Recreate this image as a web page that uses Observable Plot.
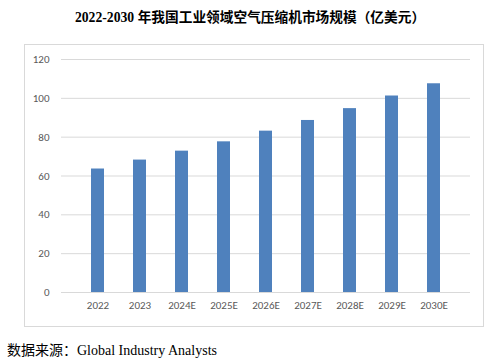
<!DOCTYPE html>
<html><head><meta charset="utf-8">
<script src="https://cdn.jsdelivr.net/npm/d3@7"></script>
<script src="https://cdn.jsdelivr.net/npm/@observablehq/plot@0.6"></script>
<style>
body{margin:0;background:#fff;width:495px;height:362px;position:relative;overflow:hidden}
#title{position:absolute;top:6px;left:0;width:500px;text-align:center;font:bold 13.7px "Liberation Serif","Noto Sans CJK SC",serif;color:#000}
#chart{position:absolute;left:24px;top:44px;width:458px;height:281px;border:1px solid #d9d9d9}
#caption{position:absolute;left:7px;top:339px;font:14px "Liberation Serif","Noto Sans CJK SC",serif;color:#000}
</style></head>
<body>
<div id="title">2022-2030 年我国工业领域空气压缩机市场规模（亿美元）</div>
<div id="chart"></div>
<div id="caption">数据来源：Global Industry Analysts</div>
<script>
const years = ["2022","2023","2024E","2025E","2026E","2027E","2028E","2029E","2030E"];
const values = [63.6, 68.2, 72.8, 77.6, 83.1, 88.6, 94.7, 101.2, 107.5];
const yTicks = [0,20,40,60,80,100,120];
const data = years.map((y,i)=>({year:y, value:values[i]}));
const chart = Plot.plot({
  width: 458, height: 281,
  marginLeft: 36, marginRight: 13, marginTop: 14, marginBottom: 34,
  style: {fontFamily: "Carlito, 'Liberation Sans', 'Noto Sans', sans-serif", fontSize: "11px", color: "#595959", background: "#fff"},
  x: {domain: years, padding: 0.68, label: null, tickSize: 0, tickPadding: 9},
  y: {domain: [0,120], ticks: yTicks, label: null, tickSize: 0, tickPadding: 12},
  marks: [
    Plot.gridY(yTicks, {stroke: "#d9d9d9", strokeOpacity: 1, strokeWidth: 1}),
    Plot.barY(data, {x: "year", y: "value", fill: "#4f81bd"}),
    Plot.axisX({tickSize: 0, tickPadding: 9}),
    Plot.axisY(yTicks, {tickSize: 0, tickPadding: 12})
  ]
});
document.getElementById("chart").appendChild(chart);
</script>
</body></html>
